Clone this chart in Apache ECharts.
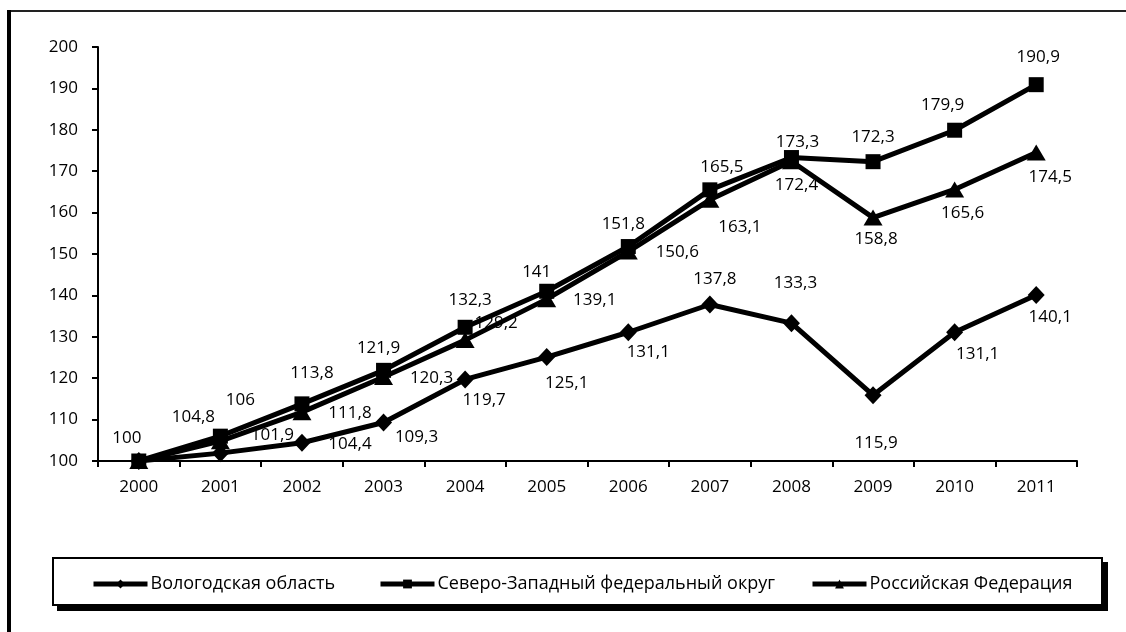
<!DOCTYPE html>
<html>
<head>
<meta charset="utf-8">
<script src="https://cdn.jsdelivr.net/npm/echarts@6/dist/echarts.min.js"></script>
<style>
html,body{margin:0;padding:0;background:#fff;}
#c{width:1126px;height:632px;}
</style>
</head>
<body>
<div id="c"></div>
<script>
// ---- data ----
const years = ['2000','2001','2002','2003','2004','2005','2006','2007','2008','2009','2010','2011'];
const seriesNames = ['Вологодская область','Северо-Западный федеральный округ','Российская Федерация'];
const vologda = [100,101.9,104.4,109.3,119.7,125.1,131.1,137.8,133.3,115.9,131.1,140.1];
const szfo    = [100,106,113.8,121.9,132.3,141,151.8,165.5,173.3,172.3,179.9,190.9];
const rf      = [100,104.8,111.8,120.3,129.2,139.1,150.6,163.1,172.4,158.8,165.6,174.5];
const yTicks  = [100,110,120,130,140,150,160,170,180,190,200];

// ---- label placement (layout only) ----
const offVologda = [[-12,-23],[52,-18],[48,1],[33,15],[19,21],[20,26],[20,20],[5,-25],[4,-40],[3,48],[23,22],[14,22]];
const offSzfo    = [null,[20,-36],[10,-31],[-5,-22],[5,-27],[-10,-19],[-5,-22],[12,-23],[6,-15],[0,-25],[-12,-25],[2,-28]];
const offRf      = [null,[-27,-24],[48,1],[48,1],[31,-17],[48,1],[49,1],[30,27],[5,24],[3,22],[8,24],[14,25]];

const FONT = 'Open Sans';
function fmt(v){ return String(v).replace('.', ','); }
function build(vals, offs){
  return vals.map((v,i)=>{
    const o = offs[i];
    if(!o) return {value:v, label:{show:false}};
    return {value:v, label:{show:true, position:'inside', offset:o}};
  });
}
function mkSeries(name, vals, offs, symbol, size){
  return {
    name:name, type:'line', data:build(vals, offs),
    symbol:symbol, symbolSize:size, showSymbol:true,
    lineStyle:{color:'#000', width:5},
    itemStyle:{color:'#000'},
    emphasis:{disabled:true},
    animation:false,
    label:{color:'#000', fontFamily:FONT, fontSize:17, formatter:p=>fmt(p.value)}
  };
}
const chart = echarts.init(document.getElementById('c'), null, {renderer:'canvas'});
const legendCommon = {
  top:575, itemWidth:54, itemHeight:11, itemGap:5, orient:'horizontal',
  lineStyle:{width:5, color:'#000'},
  textStyle:{color:'#000', fontFamily:FONT, fontSize:18, padding:[0,0,0,-2]},
  selectedMode:false, padding:0
};
chart.setOption({
  backgroundColor:'#fff',
  animation:false,
  graphic:[
    {type:'rect', shape:{x:7, y:10, width:1200, height:2}, style:{fill:'#222'}},
    {type:'rect', shape:{x:7, y:10, width:4, height:700}, style:{fill:'#000'}},
    {type:'rect', shape:{x:57, y:562, width:1051, height:49}, style:{fill:'#000'}},
    {type:'rect', shape:{x:53, y:558, width:1049, height:47}, style:{fill:'#fff', stroke:'#000', lineWidth:2}}
  ],
  grid:{left:98, right:49, top:47, bottom:171},
  xAxis:{
    type:'category', data:years, boundaryGap:true,
    axisLine:{lineStyle:{color:'#000', width:2}},
    axisTick:{show:true, length:6, lineStyle:{color:'#000', width:2}},
    axisLabel:{color:'#000', fontFamily:FONT, fontSize:17, margin:18}
  },
  yAxis:{
    type:'value', min:yTicks[0], max:yTicks[yTicks.length-1], interval:10,
    axisLine:{show:true, lineStyle:{color:'#000', width:2}},
    axisTick:{show:true, length:6, lineStyle:{color:'#000', width:2}},
    splitLine:{show:false},
    axisLabel:{color:'#000', fontFamily:FONT, fontSize:17, margin:20}
  },
  legend:[
    Object.assign({}, legendCommon, {left:91, data:[seriesNames[0]]}),
    Object.assign({}, legendCommon, {left:378, data:[seriesNames[1]]}),
    Object.assign({}, legendCommon, {left:810, data:[seriesNames[2]]})
  ],
  series:[
    mkSeries(seriesNames[0], vologda, offVologda, 'diamond', [17,18]),
    mkSeries(seriesNames[1], szfo, offSzfo, 'rect', 15),
    mkSeries(seriesNames[2], rf, offRf, 'triangle', [19,16])
  ]
});
</script>
</body>
</html>
